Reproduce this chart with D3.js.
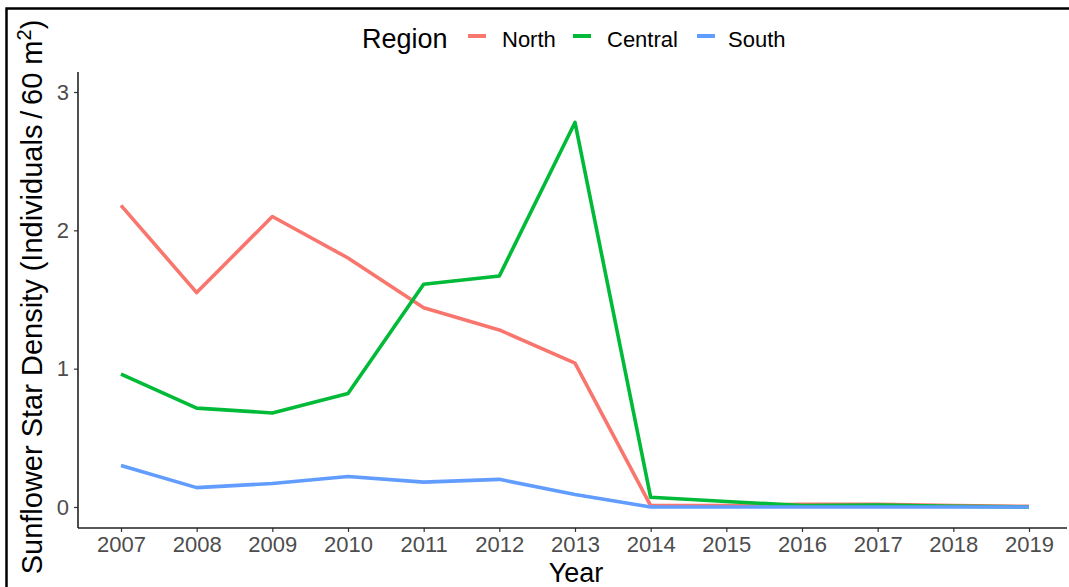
<!DOCTYPE html>
<html>
<head>
<meta charset="utf-8">
<script src="https://cdn.jsdelivr.net/npm/d3@7"></script>
<style>
  body { margin: 0; background: #fff; }
  svg { display: block; font-family: "Liberation Sans", Arial, Helvetica, sans-serif; }
</style>
</head>
<body>
<svg id="chart" width="1069" height="587"></svg>
<script>
// Sunflower star density by region, 2007–2019
const years = [2007, 2008, 2009, 2010, 2011, 2012, 2013, 2014, 2015, 2016, 2017, 2018, 2019];
const north   = [2.18, 1.55, 2.10, 1.80, 1.44, 1.28, 1.04, 0.01, 0.01, 0.02, 0.02, 0.01, 0.005];
const central = [0.96, 0.715, 0.68, 0.82, 1.61, 1.67, 2.78, 0.07, 0.04, 0.01, 0.015, 0.005, 0.0];
const south   = [0.30, 0.14, 0.17, 0.22, 0.18, 0.20, 0.09, 0.0, 0.0, 0.0, 0.0, 0.0, 0.0];
const regions = ["North", "Central", "South"];
const regionColors = ["#F8766D", "#00BA38", "#619CFF"];
const yTicks = [0, 1, 2, 3];

const seriesList = [north, central, south].map((vals, i) => ({
  name: regions[i],
  color: regionColors[i],
  points: years.map((yr, j) => ({ year: yr, value: vals[j] }))
}));

const svg = d3.select("#chart");

// outer frame (runs off the right and bottom edges)
svg.append("rect")
  .attr("x", 6.5).attr("y", 8.5)
  .attr("width", 1100).attr("height", 620)
  .attr("fill", "none").attr("stroke", "#000").attr("stroke-width", 2.5);

const plot = { left: 78, right: 1067, top: 72, bottom: 528 };

const x = d3.scaleLinear().domain([2007, 2019]).range([121, 1029]);
const y = d3.scaleLinear().domain([0, 3]).range([507, 92]);

const axisColor = "#222";
const tickTextColor = "#4d4d4d";
const tickFont = "22px";

// y axis
const yAxis = svg.append("g")
  .attr("transform", `translate(${plot.left},0)`)
  .call(d3.axisLeft(y).tickValues(yTicks).tickFormat(d3.format("d")).tickSize(4).tickPadding(5));
yAxis.select(".domain").remove();
yAxis.selectAll(".tick line").attr("stroke", "#333").attr("stroke-width", 1.2);
yAxis.selectAll(".tick text").attr("fill", tickTextColor).style("font-size", tickFont);
svg.append("line")
  .attr("x1", plot.left).attr("x2", plot.left)
  .attr("y1", plot.top).attr("y2", plot.bottom)
  .attr("stroke", axisColor).attr("stroke-width", 1.6);

// x axis
const xAxis = svg.append("g")
  .attr("transform", `translate(0,${plot.bottom})`)
  .call(d3.axisBottom(x).tickValues(years).tickFormat(d3.format("d")).tickSize(4).tickPadding(4));
xAxis.select(".domain").remove();
xAxis.selectAll(".tick line").attr("stroke", "#333").attr("stroke-width", 1.2);
xAxis.selectAll(".tick text").attr("fill", tickTextColor).style("font-size", tickFont);
svg.append("line")
  .attr("x1", plot.left).attr("x2", plot.right)
  .attr("y1", plot.bottom).attr("y2", plot.bottom)
  .attr("stroke", axisColor).attr("stroke-width", 1.6);

// lines
const line = d3.line().x(d => x(d.year)).y(d => y(d.value));
svg.append("g").selectAll("path")
  .data(seriesList)
  .join("path")
  .attr("d", d => line(d.points))
  .attr("fill", "none")
  .attr("stroke", d => d.color)
  .attr("stroke-width", 3.6)
  .attr("stroke-linejoin", "round")
  .attr("stroke-linecap", "butt");

// axis titles
svg.append("text")
  .attr("x", 576).attr("y", 582)
  .attr("text-anchor", "middle")
  .style("font-size", "27px").attr("fill", "#000")
  .text("Year");

const yTitle = svg.append("text")
  .attr("transform", `translate(42,297) rotate(-90)`)
  .attr("text-anchor", "middle")
  .style("font-size", "29px").attr("fill", "#000");
yTitle.append("tspan").text("Sunflower Star Density (Individuals\u2009/\u200960 m");
yTitle.append("tspan").attr("dy", -11).style("font-size", "20px").text("2");
yTitle.append("tspan").attr("dy", 11).text(")");

// legend
const legend = svg.append("g");
legend.append("text")
  .attr("x", 362).attr("y", 48)
  .style("font-size", "27px").attr("fill", "#000")
  .text("Region");
const keyX = [468, 573, 697];
const labelX = [502, 607, 728];
regions.forEach((name, i) => {
  legend.append("line")
    .attr("x1", keyX[i]).attr("x2", keyX[i] + 18)
    .attr("y1", 36).attr("y2", 36)
    .attr("stroke", regionColors[i]).attr("stroke-width", 4);
  legend.append("text")
    .attr("x", labelX[i]).attr("y", 47)
    .style("font-size", "22px").attr("fill", "#000")
    .text(name);
});
</script>
</body>
</html>
